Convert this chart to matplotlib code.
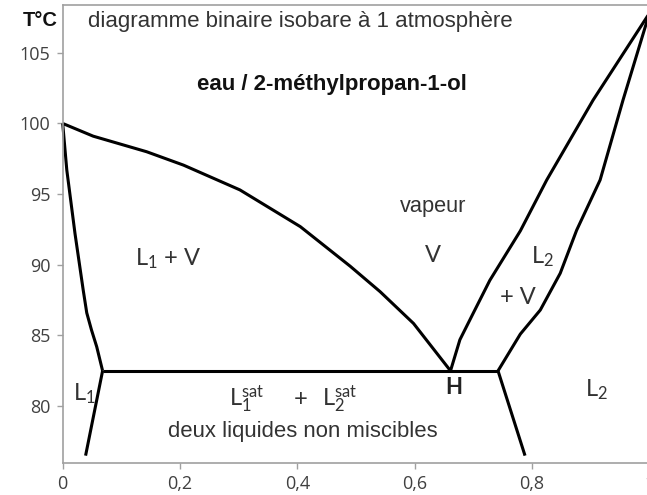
import matplotlib
matplotlib.use('Agg')
import matplotlib.pyplot as plt

# courbes du diagramme eau / 2-methylpropan-1-ol (x = fraction molaire en alcool)
x_ebul_1 = [0.0, 0.007, 0.021, 0.035, 0.041, 0.049, 0.058, 0.068]
T_ebul_1 = [100.0, 96.7, 92.2, 88.2, 86.6, 85.4, 84.2, 82.5]

x_rosee_1 = [0.0, 0.052, 0.143, 0.206, 0.302, 0.405, 0.49, 0.541, 0.598, 0.661]
T_rosee_1 = [100.0, 99.1, 98.0, 97.05, 95.3, 92.7, 89.9, 88.1, 85.85, 82.5]

x_rosee_2 = [0.661, 0.677, 0.70, 0.728, 0.78, 0.825, 0.904, 1.0]
T_rosee_2 = [82.5, 84.7, 86.6, 88.9, 92.4, 96.0, 101.65, 107.8]

x_ebul_2 = [0.742, 0.78, 0.814, 0.848, 0.876, 0.916, 0.955, 1.0]
T_ebul_2 = [82.5, 85.1, 86.8, 89.4, 92.45, 96.0, 101.65, 107.8]

# palier heteroazeotropique et courbes de miscibilite
x_palier = [0.068, 0.742]
T_palier = [82.5, 82.5]
x_misc_1 = [0.068, 0.039]
T_misc_1 = [82.5, 76.5]
x_misc_2 = [0.742, 0.788]
T_misc_2 = [82.5, 76.5]

xticks = [0, 0.2, 0.4, 0.6, 0.8, 1.0]
xtick_labels = ['0', '0,2', '0,4', '0,6', '0,8', '1']
yticks = [80, 85, 90, 95, 100, 105]

plt.rcParams['mathtext.fontset'] = 'custom'
plt.rcParams['mathtext.rm'] = 'Lato'
plt.rcParams['mathtext.it'] = 'Lato:italic'
plt.rcParams['mathtext.bf'] = 'Lato:bold'

W, H = 647, 495
fig = plt.figure(figsize=(W / 100, H / 100), dpi=100)
ax = fig.add_axes([62.7 / W, 32.3 / H, 586.7 / W, 457.7 / H])

lw = 2.2
for xs, Ts in [(x_ebul_1, T_ebul_1), (x_rosee_1, T_rosee_1),
               (x_rosee_2, T_rosee_2), (x_ebul_2, T_ebul_2),
               (x_palier, T_palier), (x_misc_1, T_misc_1),
               (x_misc_2, T_misc_2)]:
    ax.plot(xs, Ts, color='k', lw=lw, solid_joinstyle='miter',
            solid_capstyle='butt', clip_on=False)

ax.set_xlim(0, 1)
ax.set_ylim(76.0, 108.38)
ax.set_xticks(xticks)
ax.set_xticklabels(xtick_labels)
ax.set_yticks(yticks)

gris = '#a0a0a0'
for s in ['left', 'bottom', 'top', 'right']:
    ax.spines[s].set_color(gris)
    ax.spines[s].set_linewidth(1.2)
ax.tick_params(axis='both', colors=gris, length=4, width=1.0, pad=5,
               labelcolor='#404040', labelsize=13)
for lab in ax.get_xticklabels() + ax.get_yticklabels():
    lab.set_family('Open Sans')

fig.text(40 / W, 1 - 20 / H, 'T°C', ha='center', va='center',
         fontsize=14.5, fontweight='bold', family='Liberation Sans', color='#111111')

arial = dict(family='Liberation Sans')
ax.text(0.043, 107.24, 'diagramme binaire isobare à 1 atmosphère',
        ha='left', va='center', fontsize=16, color='#333333', **arial)
ax.text(0.459, 102.78, 'eau / 2-méthylpropan-1-ol', ha='center', va='center',
        fontsize=16, fontweight='bold', color='#111111', **arial)
ax.text(0.631, 94.14, 'vapeur', ha='center', va='center', fontsize=15.7,
        color='#333333', **arial)
ax.text(0.41, 78.23, 'deux liquides non miscibles', ha='center', va='center',
        fontsize=15.9, color='#333333', **arial)

lato = dict(family='Lato', color='#333333', fontsize=17)
ax.text(0.123, 89.93, 'L$_1$ + V', ha='left', va='baseline', **lato)
ax.text(0.631, 90.68, 'V', ha='center', va='center', **lato)
ax.text(0.799, 90.1, 'L$_2$', ha='left', va='baseline', **lato)
ax.text(0.746, 87.26, '+ V', ha='left', va='baseline', **lato)
ax.text(0.017, 80.42, 'L$_1$', ha='left', va='baseline', **lato)
ax.text(0.89, 80.7, 'L$_2$', ha='left', va='baseline', **lato)
ax.text(0.284, 80.0, r'L$_1^{\mathrm{sat}}$', ha='left', va='baseline', **lato)
ax.text(0.405, 80.0, '+', ha='center', va='baseline', **lato)
ax.text(0.442, 80.0, r'L$_2^{\mathrm{sat}}$', ha='left', va='baseline', **lato)
ax.text(0.666, 81.3, 'H', ha='center', va='center', fontsize=16,
        fontweight='bold', family='Lato', color='#222222')

fig.savefig('out.png', dpi=100)
